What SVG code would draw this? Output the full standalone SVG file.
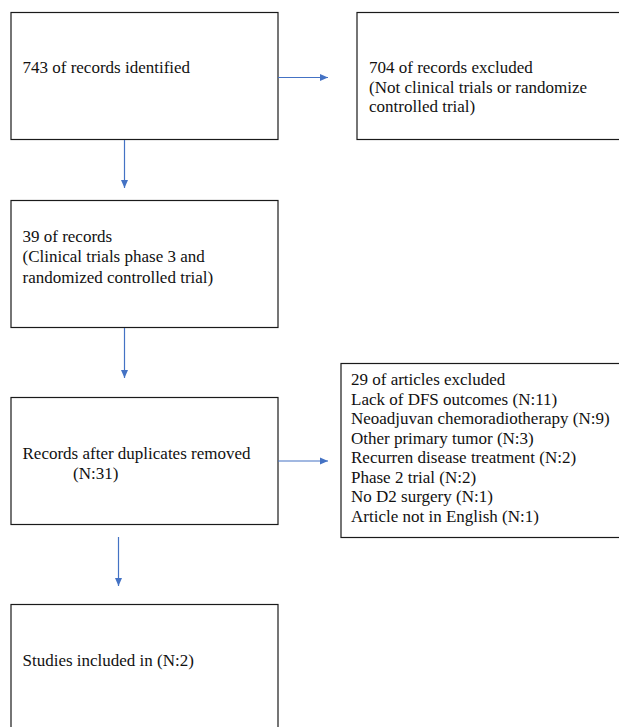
<svg xmlns="http://www.w3.org/2000/svg" width="619" height="727" viewBox="0 0 619 727">
  <style>
    .box { fill: #ffffff; stroke: #1a1a1a; stroke-width: 1.2; }
    .c { stroke: #4472C4; stroke-width: 1.2; fill: none; marker-end: url(#ah); }
  </style>
  <defs>
    <marker id="ah" markerUnits="userSpaceOnUse" markerWidth="8" markerHeight="8" refX="8" refY="4" orient="auto">
      <path d="M0,0.5 L8,4 L0,7.5 z" fill="#4472C4"/>
    </marker>
  </defs>
  <rect width="619" height="727" fill="#ffffff"/>

  <g font-family="Liberation Serif, Times New Roman, DejaVu Serif, serif" font-size="17" fill="#111111">
  <g id="n1">
    <rect class="box" x="11" y="12.5" width="267" height="127"/>
    <text x="22.5" y="73">743 of records identified</text>
  </g>
  <g id="n2">
    <rect class="box" x="357" y="12.5" width="270" height="127"/>
    <text x="369" y="73">704 of records excluded</text>
    <text x="369" y="92.5">(Not clinical trials or randomize</text>
    <text x="369" y="112">controlled trial)</text>
  </g>
  <g id="n3">
    <rect class="box" x="11" y="200.5" width="267" height="127"/>
    <text x="22.5" y="241.8">39 of records</text>
    <text x="22.5" y="262.3">(Clinical trials phase 3 and</text>
    <text x="22.5" y="282.8">randomized controlled trial)</text>
  </g>
  <g id="n4">
    <rect class="box" x="11" y="397.5" width="267" height="127"/>
    <text x="22.5" y="458.5">Records after duplicates removed</text>
    <text x="73" y="479">(N:31)</text>
  </g>
  <g id="n5">
    <rect class="box" x="341" y="363.5" width="290" height="174"/>
    <text x="351" y="385">29 of articles excluded</text>
    <text x="351" y="404.5">Lack of DFS outcomes (N:11)</text>
    <text x="351" y="424">Neoadjuvan chemoradiotherapy (N:9)</text>
    <text x="351" y="443.5">Other primary tumor (N:3)</text>
    <text x="351" y="463">Recurren disease treatment (N:2)</text>
    <text x="351" y="482.5">Phase 2 trial (N:2)</text>
    <text x="351" y="502">No D2 surgery (N:1)</text>
    <text x="351" y="521.5">Article not in English (N:1)</text>
  </g>
  <g id="n6">
    <rect class="box" x="11" y="604.5" width="267" height="140"/>
    <text x="22.5" y="666">Studies included in (N:2)</text>
  </g>
  </g>

  <g id="connectors">
    <line class="c" x1="278" y1="77.5" x2="328" y2="77.5"/>
    <line class="c" x1="124.5" y1="140" x2="124.5" y2="188"/>
    <line class="c" x1="124.5" y1="328" x2="124.5" y2="378"/>
    <line class="c" x1="278" y1="461" x2="328" y2="461"/>
    <line class="c" x1="118.5" y1="537" x2="118.5" y2="586"/>
  </g>
</svg>
